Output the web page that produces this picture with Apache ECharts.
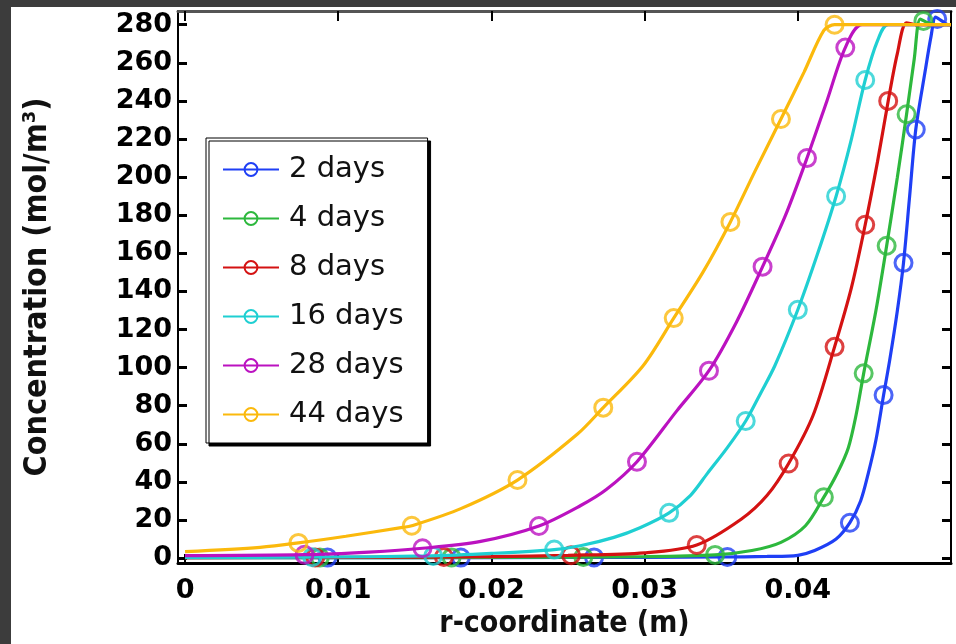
<!DOCTYPE html>
<html>
<head>
<meta charset="utf-8">
<script src="https://cdn.jsdelivr.net/npm/echarts@6/dist/echarts.min.js"></script>
<style>
html,body{margin:0;padding:0;background:#fff;}
#chart{width:956px;height:644px;}
</style>
</head>
<body>
<div id="chart"></div>
<script>
// ---- data (r in m, concentration in mol/m^3) ----
const seriesNames = ['2 days', '4 days', '8 days', '16 days', '28 days', '44 days'];
const seriesColors = ['#1f3ff5', '#2db83d', '#d41212', '#1fcfd2', '#bb12c0', '#fbb90c'];

const curve2 = [[0,0.3],[0.01,0.3],[0.02,0.3],[0.03,0.4],[0.035,0.6],[0.038,0.9],[0.040,1.5],[0.0411,4],[0.0425,10],[0.0434,18.6],[0.0441,30],[0.0446,44.5],[0.0451,62],[0.0456,85.6],[0.0460,104],[0.0465,130],[0.0469,155],[0.0473,190],[0.0477,225],[0.0483,255],[0.0487,274],[0.0490,284],[0.0494,282],[0.0498,280],[0.0500,280]];
const curve4 = [[0,0.3],[0.01,0.3],[0.02,0.4],[0.03,0.8],[0.0346,1.7],[0.037,4],[0.0389,8.3],[0.0405,17],[0.0417,32],[0.0426,45],[0.0433,58],[0.0438,75],[0.0443,97],[0.0451,130],[0.0458,164],[0.0465,200],[0.0471,233],[0.0476,262],[0.0480,283],[0.0485,281],[0.0490,280],[0.0500,280]];
const curve8 = [[0,0.3],[0.01,0.4],[0.02,0.8],[0.025,1.5],[0.030,2.8],[0.0334,6.9],[0.0363,20.4],[0.0380,33],[0.0394,49.7],[0.0410,75],[0.0424,110.9],[0.0435,142],[0.0444,175],[0.0452,208],[0.0459,240],[0.0465,265],[0.0471,281],[0.0478,280],[0.0500,280]];
const curve16 = [[0,0.4],[0.008,0.5],[0.016,1.2],[0.020,2.5],[0.0241,4.5],[0.0258,6.5],[0.028,10.9],[0.0297,16],[0.0316,23.8],[0.0330,33],[0.0341,44.5],[0.0354,58],[0.0366,72],[0.0376,87],[0.0385,101],[0.0400,130.4],[0.0413,160],[0.0425,190],[0.0435,220],[0.0444,251],[0.0452,271.5],[0.0459,280],[0.0500,280]];
const curve28 = [[0,1.3],[0.0078,1.8],[0.012,3.2],[0.0155,5.2],[0.0193,8.8],[0.0231,16.9],[0.0258,27.5],[0.0275,36],[0.0295,50.6],[0.0321,77.3],[0.0342,98.4],[0.0360,124],[0.0377,153],[0.0392,180],[0.0406,210],[0.0419,240],[0.0431,268],[0.0442,280],[0.0500,280]];
const curve44 = [[0,3.4],[0.0049,5.7],[0.0074,8.0],[0.0105,11.5],[0.0141,16],[0.0148,17],[0.018,26],[0.0217,41],[0.0256,65],[0.0273,79],[0.0299,101],[0.0319,126],[0.0338,150],[0.0356,176.5],[0.0372,203],[0.0389,230.5],[0.0404,255],[0.0417,277],[0.0424,280],[0.0500,280]];

const marks2 = [[0.0093,0.3],[0.0180,0.3],[0.0267,0.4],[0.0354,0.6],[0.0434,18.6],[0.0456,85.6],[0.0469,155],[0.0477,225],[0.0491,283]];
const marks4 = [[0.0088,0.3],[0.0174,0.4],[0.0260,0.6],[0.0346,1.7],[0.0417,32],[0.0443,97],[0.0458,164],[0.0471,233],[0.0482,282]];
const marks8 = [[0.0085,0.4],[0.0169,0.6],[0.0252,1.5],[0.0334,6.9],[0.0394,49.7],[0.0424,110.9],[0.0444,175],[0.0459,240]];
const marks16 = [[0.0083,0.5],[0.0162,1.1],[0.0241,4.5],[0.0316,23.8],[0.0366,72],[0.0400,130.4],[0.0425,190],[0.0444,251]];
const marks28 = [[0.0078,1.8],[0.0155,5.2],[0.0231,16.9],[0.0295,50.6],[0.0342,98.4],[0.0377,153],[0.0406,210],[0.0431,268]];
const marks44 = [[0.0074,8.0],[0.0148,17],[0.0217,41],[0.0273,79],[0.0319,126],[0.0356,176.5],[0.0389,230.5],[0.0424,280]];

const xTicks = [0, 0.01, 0.02, 0.03, 0.04, 0.05];
const xLabels = [0, 0.01, 0.02, 0.03, 0.04];
const yTicks = [0, 20, 40, 60, 80, 100, 120, 140, 160, 180, 200, 220, 240, 260, 280];

const curves = [curve2, curve4, curve8, curve16, curve28, curve44];
const marks = [marks2, marks4, marks8, marks16, marks28, marks44];

const X_MIN = -0.00046, X_MAX = 0.05, Y_MIN = -2.6, Y_MAX = 287.2;
const tickFont = {fontFamily: 'DejaVu Sans', fontWeight: 'bold', fontSize: 27, color: '#000'};

const series = [];
curves.forEach((c, i) => {
  series.push({
    name: seriesNames[i], type: 'line', data: c, smooth: 0.3,
    symbol: 'circle', symbolSize: 15, showSymbol: false, z: 2 + i,
    lineStyle: {color: seriesColors[i], width: 3.2},
    itemStyle: {color: 'rgba(0,0,0,0)', borderColor: seriesColors[i], borderWidth: 2.5},
    emphasis: {disabled: true}
  });
});
marks.forEach((m, i) => {
  series.push({
    name: seriesNames[i], type: 'scatter', data: m, symbol: 'circle', symbolSize: 17, z: 2 + i,
    itemStyle: {color: 'rgba(0,0,0,0)', borderColor: seriesColors[i], borderWidth: 3},
    emphasis: {disabled: true}
  });
});

const chart = echarts.init(document.getElementById('chart'), null, {renderer: 'canvas'});
chart.setOption({
  animation: false,
  backgroundColor: '#fff',
  grid: {left: 178, right: 5, top: 11, bottom: 73, containLabel: false},
  graphic: [
    {type: 'rect', shape: {x: 0, y: 0, width: 956, height: 7}, style: {fill: '#3c3c3c'}, z: 100},
    {type: 'rect', shape: {x: 0, y: 0, width: 11, height: 644}, style: {fill: '#3c3c3c'}, z: 100}
  ],
  legend: {
    orient: 'vertical', left: 206, top: 138,
    data: seriesNames,
    itemWidth: 56, itemHeight: 16, itemGap: 20,
    padding: [17, 24, 14, 16],
    backgroundColor: '#fff', borderColor: '#000', borderWidth: 1,
    shadowColor: '#000', shadowBlur: 0, shadowOffsetX: 3, shadowOffsetY: 3,
    textStyle: {fontFamily: 'DejaVu Sans', fontSize: 29, color: '#111', lineHeight: 28, padding: [0, 0, 0, 5]},
    selectedMode: false
  },
  xAxis: [{
    type: 'value', min: X_MIN, max: X_MAX, position: 'bottom',
    name: 'r-coordinate (m)', nameLocation: 'middle', nameGap: 45,
    nameTextStyle: {fontFamily: 'DejaVu Sans Condensed', fontWeight: 'bold', fontSize: 30, color: '#111'},
    axisLine: {show: true, onZero: false, lineStyle: {color: '#000', width: 3}},
    axisTick: {show: true, inside: true, length: 9, customValues: xTicks, lineStyle: {color: '#000', width: 2}},
    axisLabel: {show: true, customValues: xLabels, margin: 14, formatter: v => String(+v.toFixed(2)), ...tickFont},
    splitLine: {show: false}
  }, {
    type: 'value', min: X_MIN, max: X_MAX, position: 'top',
    axisLine: {show: true, onZero: false, lineStyle: {color: '#555', width: 3}},
    axisTick: {show: true, inside: true, length: 10, customValues: xTicks, lineStyle: {color: '#000', width: 2}},
    axisLabel: {show: false}, splitLine: {show: false}
  }],
  yAxis: [{
    type: 'value', min: Y_MIN, max: Y_MAX, position: 'left',
    name: 'Concentration (mol/m³)', nameLocation: 'middle', nameGap: 124,
    nameTextStyle: {fontFamily: 'DejaVu Sans Condensed', fontWeight: 'bold', fontSize: 32, color: '#111'},
    axisLine: {show: true, onZero: false, lineStyle: {color: '#000', width: 2}},
    axisTick: {show: true, inside: true, length: 9, customValues: yTicks, lineStyle: {color: '#000', width: 3}},
    axisLabel: {show: true, customValues: yTicks, margin: 6, ...tickFont},
    splitLine: {show: false}
  }, {
    type: 'value', min: Y_MIN, max: Y_MAX, position: 'right',
    axisLine: {show: true, onZero: false, lineStyle: {color: '#000', width: 2}},
    axisTick: {show: true, inside: true, length: 9, customValues: yTicks, lineStyle: {color: '#000', width: 3}},
    axisLabel: {show: false}, splitLine: {show: false}
  }],
  series: series
});
</script>
</body>
</html>
